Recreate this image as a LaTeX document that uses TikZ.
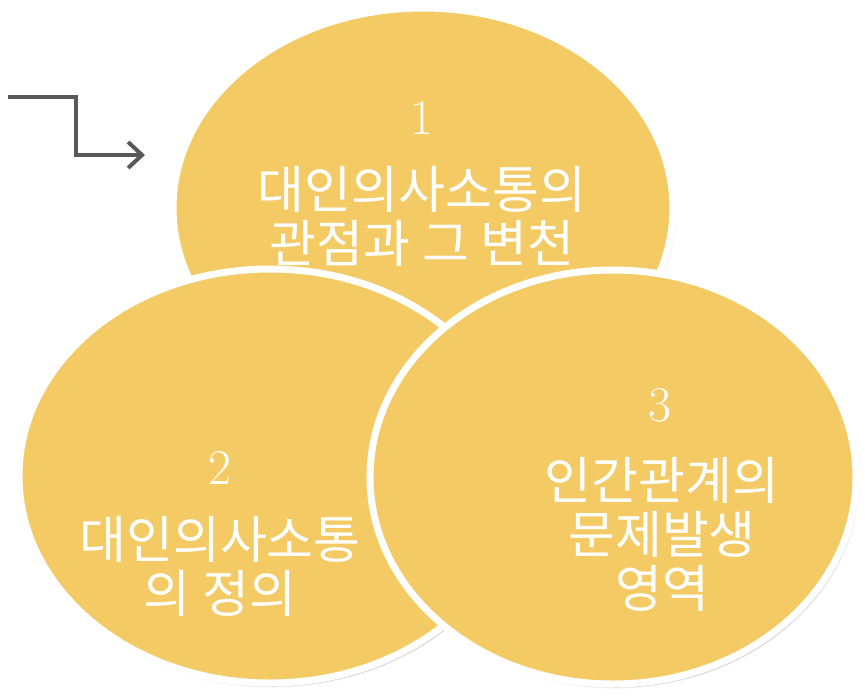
\documentclass[tikz,border=0pt]{standalone}
\usepackage{fontspec}
\newfontfamily\cjk{Noto Sans CJK KR}
\usetikzlibrary{shapes.geometric,arrows.meta,shadows.blur}
\definecolor{venn}{RGB}{243,202,99}
\definecolor{arrowgray}{RGB}{88,88,88}
\begin{document}
\begin{tikzpicture}[x=1pt,y=-1pt,
  vennbox/.style={ellipse, draw=white, line width=7pt, fill=venn, inner sep=0pt,
    blur shadow={shadow xshift=2pt, shadow yshift=-3pt, shadow opacity=35, shadow blur steps=6}},
  numtext/.style={text=white, font=\fontsize{50}{56}\selectfont},
  kotext/.style={text=white, font=\cjk\fontsize{51}{54}\selectfont, align=center, inner sep=0pt},
  bentarrow/.style={draw=arrowgray, line width=4pt, -{Straight Barb[length=14pt,width=26pt]}}
]
\useasboundingbox (0,0) rectangle (865,699);
% ellipses
\node[vennbox, minimum width=500pt, minimum height=400pt] (e1) at (423,208) {};
\node[vennbox, minimum width=502pt, minimum height=414pt] (e2) at (270,476) {};
\node[vennbox, minimum width=486pt, minimum height=414pt] (e3) at (613,477) {};
% texts
\node[numtext] (n1) at (422,118) {1};
\node[kotext] (t1) at (422,216) {대인의사소통의\\관점과 그 변천};
\node[numtext] (n2) at (220,468) {2};
\node[kotext] (t2) at (220,566) {대인의사소통\\의 정의};
\node[numtext] (n3) at (660,405) {3};
\node[kotext] (t3) at (662,534) {인간관계의\\문제발생\\영역};
% arrow
\coordinate (a0) at (8,97);
\coordinate (a1) at (145,155);
\draw[bentarrow] (a0) -- ++(68,0) |- (a1);
\end{tikzpicture}
\end{document}
